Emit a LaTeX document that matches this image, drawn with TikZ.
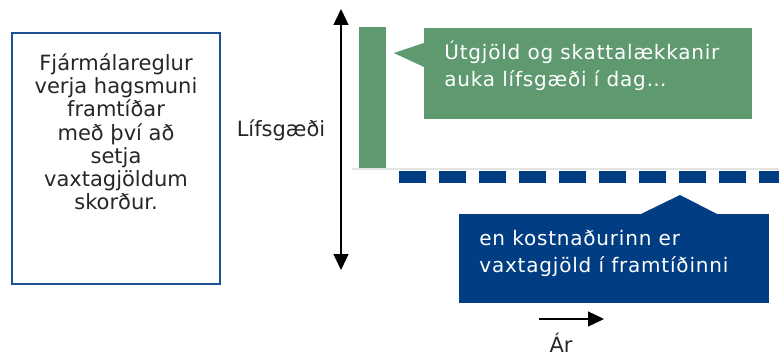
\documentclass[tikz,border=0pt]{standalone}
\usepackage{fontspec}
\setmainfont{DejaVu Sans}
\newfontfamily\callfont{DejaVu Sans}[LetterSpace=4]
\usetikzlibrary{positioning, calc, arrows.meta}
\definecolor{fgreen}{RGB}{95,153,112}
\definecolor{fblue}{RGB}{0,61,130}
\definecolor{fframe}{RGB}{28,78,152}

\begin{document}
\begin{tikzpicture}[x=1pt, y=-1pt, thick]
        % Define block styles
        \tikzstyle{frame} = [rectangle, draw=fframe, line width=2.5pt, minimum width=208pt, minimum height=251pt, inner sep=0pt]
        \tikzstyle{plain} = [align=center, text=black!85, font=\fontsize{21}{23.3}\selectfont, inner sep=0pt]
        \tikzstyle{callout} = [rectangle, inner sep=0pt, anchor=north west]
        \tikzstyle{calltext} = [align=left, text=white, font=\callfont\fontsize{20}{27}\selectfont, inner sep=0pt, anchor=base west]
        \tikzstyle{tip} = [-{Triangle[length=16pt, width=15pt]}, line width=1.3pt]

        \useasboundingbox (0,0) rectangle (779,358);

        % Place nodes
        \node [frame] (rules) at (116,158.5) {};
        \node [plain, anchor=base] (rulestext) at (116,210) {Fjármálareglur\\verja hagsmuni\\framtíðar\\með því að\\setja\\vaxtagjöldum\\skorður.};
        \node [plain, anchor=base] (ylabel) at (281,137) {Lífsgæði};
        \coordinate (ytop) at (341,9);
        \coordinate (ybottom) at (341,270);
        \coordinate (zero) at (352,169);
        \coordinate (zeroend) at (779,169);
        \coordinate (future) at (399,177);
        \coordinate (futureend) at (779,177);
        \node [fill=fgreen, minimum width=27pt, minimum height=141pt, inner sep=0pt, anchor=north west] (bar) at (359,27) {};
        \node [callout, fill=fgreen, minimum width=328pt, minimum height=91pt] (gain) at (424,28) {};
        \node [callout, fill=fblue, minimum width=310pt, minimum height=89pt] (cost) at (459,214) {};
        \coordinate (tstart) at (539,319);
        \coordinate (tend) at (604,319);
        \node [plain, anchor=base] (xlabel) at (561,352) {Ár};

        % Draw axes and lines
        \draw [tip, {Triangle[length=16pt, width=15pt]}-{Triangle[length=16pt, width=15pt]}] (ybottom) -- (ytop);
        \draw [gray!20, line width=1.5pt] (zero) -- (zeroend);
        \draw [fblue, line width=12pt, dash pattern=on 27pt off 13pt] (future) -- (futureend);
        \draw [tip] (tstart) -- (tend);

        % Add pointers and text on the callouts
        \fill [fgreen] ($(gain.north west)+(0,15)$) -- ($(bar.north east)+(7,26)$) -- ($(gain.north west)+(0,39)$) -- cycle;
        \fill [fblue] ($(cost.north west)+(182,0)$) -- ($(cost.north west)+(221,-19)$) -- ($(cost.north west)+(258,0)$) -- cycle;
        \node [calltext] (gaintext) at ($(gain.north west)+(20,59)$) {Útgjöld og skattalækkanir\\auka lífsgæði í dag…};
        \node [calltext] (costtext) at ($(cost.north west)+(20,58)$) {en kostnaðurinn er\\vaxtagjöld í framtíðinni};
    \end{tikzpicture}
\end{document}
